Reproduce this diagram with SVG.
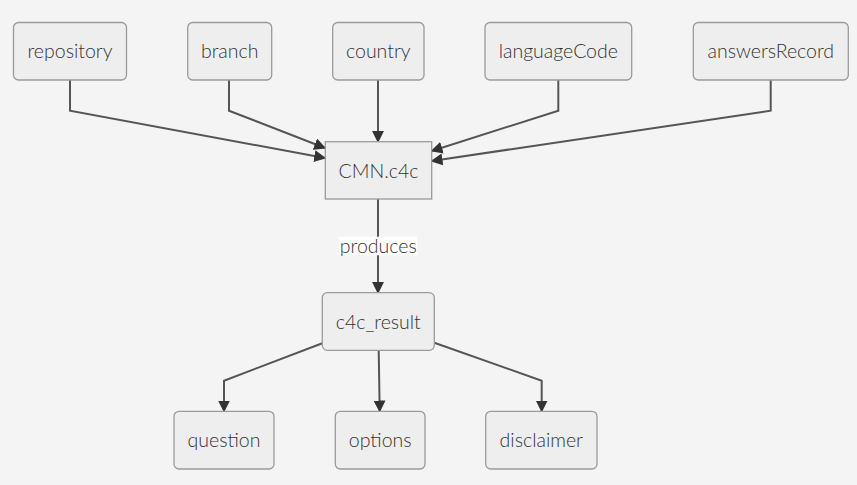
<svg xmlns="http://www.w3.org/2000/svg" width="857" height="485" viewBox="0 0 857 485">
<style>
.bg{fill:#f4f4f4}
.n{fill:#eeeeee;stroke:#9a9a9a;stroke-width:1.3}
.t{font-family:Lato,"Liberation Sans",sans-serif;font-size:19.5px;font-weight:300;fill:#333;text-anchor:middle;dominant-baseline:central}
.e{fill:none;stroke:#555;stroke-width:2}
.lbl{fill:#ffffff}
</style>
<defs>
<marker id="ah" viewBox="0 0 10 10" refX="9" refY="5" markerWidth="6" markerHeight="6" markerUnits="strokeWidth" orient="auto">
<path d="M0,0 L10,5 L0,10 z" fill="#333"/>
</marker>
</defs>
<rect class="bg" x="0" y="0" width="857" height="485"/>
<g id="edges">
<path class="e" marker-end="url(#ah)" d="M70,80 V110.7 L325,158"/>
<path class="e" marker-end="url(#ah)" d="M229,80 V110.7 L325,148"/>
<path class="e" marker-end="url(#ah)" d="M378,80 V141.7"/>
<path class="e" marker-end="url(#ah)" d="M558.3,80 V110.7 L431.7,151"/>
<path class="e" marker-end="url(#ah)" d="M770.7,80 V110.7 L431.7,161"/>
<path class="e" marker-end="url(#ah)" d="M378,199 V292.7"/>
<path class="e" marker-end="url(#ah)" d="M322.3,343.3 L224,380.7 V411.3"/>
<path class="e" marker-end="url(#ah)" d="M378.7,350.3 L379.7,411.3"/>
<path class="e" marker-end="url(#ah)" d="M434.3,342.7 L541.7,380.7 V411.3"/>
<g id="label-produces">
<rect class="lbl" x="339.3" y="236.7" width="78" height="18.6"/>
<text class="t" x="378.3" y="245.3">produces</text>
</g>
</g>
<g id="repository"><rect class="n" x="13.5" y="22.5" width="113" height="57.5" rx="5"/><text class="t" x="70" y="50.5">repository</text></g>
<g id="branch"><rect class="n" x="187.7" y="22.5" width="84" height="57.5" rx="5"/><text class="t" x="229.7" y="50.5">branch</text></g>
<g id="country"><rect class="n" x="332.7" y="22.5" width="91.3" height="57.5" rx="5"/><text class="t" x="378.3" y="50.5">country</text></g>
<g id="languageCode"><rect class="n" x="485" y="22.5" width="146.7" height="57.5" rx="5"/><text class="t" x="558.3" y="50.5">languageCode</text></g>
<g id="answersRecord"><rect class="n" x="693.3" y="22.5" width="155" height="57.5" rx="5"/><text class="t" x="770.8" y="50.5">answersRecord</text></g>
<g id="CMN.c4c"><rect class="n" x="325.3" y="141.7" width="106.4" height="57.3"/><text class="t" x="378.5" y="170">CMN.c4c</text></g>
<g id="c4c_result"><rect class="n" x="322.3" y="292.7" width="112" height="57.6" rx="5"/><text class="t" x="378.3" y="321">c4c_result</text></g>
<g id="question"><rect class="n" x="174" y="411.3" width="100" height="57.7" rx="5"/><text class="t" x="224" y="439.5">question</text></g>
<g id="options"><rect class="n" x="335.3" y="411.3" width="89.7" height="57.7" rx="5"/><text class="t" x="380.2" y="439.5">options</text></g>
<g id="disclaimer"><rect class="n" x="485.7" y="411.3" width="111.3" height="57.7" rx="5"/><text class="t" x="541.3" y="439.5">disclaimer</text></g>
</svg>
